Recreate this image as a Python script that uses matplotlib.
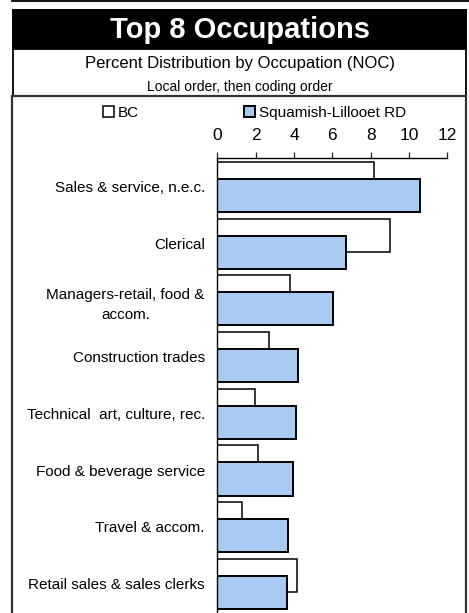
import numpy as np
import matplotlib.pyplot as plt
from matplotlib.patches import Rectangle
from matplotlib.lines import Line2D

plt.rcParams['font.family'] = ['Liberation Sans', 'DejaVu Sans']

categories = ['Sales & service, n.e.c.', 'Clerical', 'Managers-retail, food &\naccom.',
              'Construction trades', 'Technical  art, culture, rec.',
              'Food & beverage service', 'Travel & accom.', 'Retail sales & sales clerks']
bc = [8.2, 9.0, 3.8, 2.7, 1.95, 2.1, 1.3, 4.15]
squamish = [10.6, 6.7, 6.05, 4.2, 4.1, 3.95, 3.7, 3.65]
xticks = [0, 2, 4, 6, 8, 10, 12]

W, H = 469, 613
fig = plt.figure(figsize=(W / 100, H / 100), dpi=100)

def fx(px):
    return px / W

def fy(py):
    return 1 - py / H

# frames around the chart
fig.add_artist(Line2D([fx(12), 1], [fy(0.8), fy(0.8)], color='black', lw=1.3))
fig.add_artist(Rectangle((fx(12), fy(49)), fx(455), 40 / H, facecolor='black',
                         edgecolor='black', lw=0))
fig.add_artist(Rectangle((fx(13), fy(96)), fx(453), 47 / H, facecolor='white',
                         edgecolor='black', lw=1.3))
fig.add_artist(Rectangle((fx(12), fy(620)), fx(454), 524 / H, facecolor='none',
                         edgecolor='#333333', lw=1.6))

fig.text(fx(239.5), fy(38), 'Top 8 Occupations', color='white', fontsize=21,
         fontweight='bold', ha='center', va='baseline')
fig.text(fx(239.5), fy(68), 'Percent Distribution by Occupation (NOC)', fontsize=12,
         ha='center', va='baseline')
fig.text(fx(239.5), fy(91), 'Local order, then coding order', fontsize=10,
         ha='center', va='baseline')

ax = fig.add_axes([fx(217.3), fy(612), fx(230), (612 - 158.3) / H])
y = np.arange(len(categories))
h = 0.585
b1 = ax.barh(y - 0.145, bc, height=h, color='white', edgecolor='black', lw=1.1,
             label='BC')
b2 = ax.barh(y + 0.155, squamish, height=h, color='#A6CAF0', edgecolor='black',
             lw=1.4, label='Squamish-Lillooet RD')

ax.set_xlim(0, 12)
ax.set_ylim(7.5, -0.5)
ax.set_xticks(xticks)
ax.set_yticks(y)
ax.set_yticklabels(categories, fontsize=11, multialignment='center')
for t in ax.get_yticklabels():
    t.set_linespacing(1.55)
ax.xaxis.tick_top()
ax.tick_params(axis='x', length=4.3, width=0.9, pad=7, labelsize=12.5, color='#222222')
ax.tick_params(axis='y', length=0, pad=9)
for s in ['right', 'bottom']:
    ax.spines[s].set_visible(False)
ax.spines['left'].set_linewidth(1.0)
ax.spines['top'].set_linewidth(1.0)

leg_kw = dict(frameon=False, fontsize=11, handlelength=0.75, handleheight=0.75,
              handletextpad=0.2, borderpad=0, borderaxespad=0, loc='center left')
fig.legend(handles=[b1], bbox_to_anchor=(fx(103), fy(113)), **leg_kw)
fig.legend(handles=[b2], bbox_to_anchor=(fx(244), fy(113)), **leg_kw)

fig.savefig('out.png', dpi=100)
